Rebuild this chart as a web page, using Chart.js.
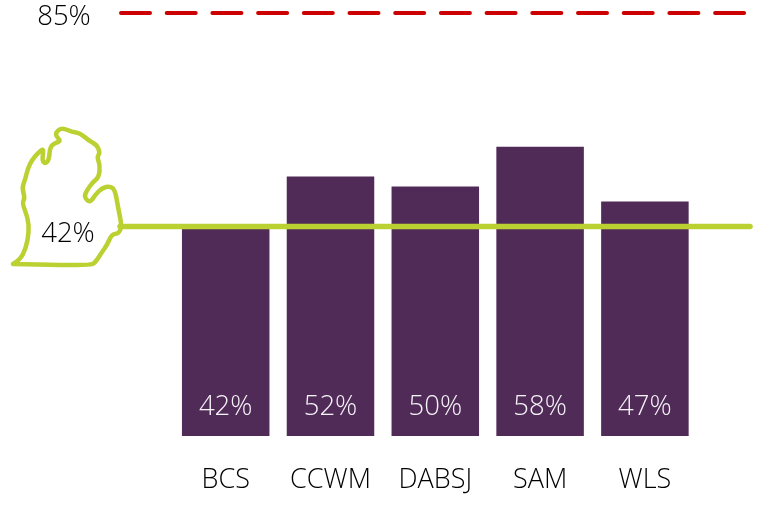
<!DOCTYPE html>
<html>
<head>
<meta charset="utf-8">
<title>Chart</title>
<script src="https://cdn.jsdelivr.net/npm/chart.js@4"></script>
<style>
    html, body { margin: 0; padding: 0; background: #ffffff; }
    canvas { display: block; }
</style>
</head>
<body>
<canvas id="districtChart" width="759" height="513"></canvas>
<script>
    // Chart values
    const categories = ['BCS', 'CCWM', 'DABSJ', 'SAM', 'WLS'];
    const districtValues = [42, 52, 50, 58, 47];
    const stateValue = 42;
    const targetValue = 85;

    const FONT = '"Open Sans", "Noto Sans", sans-serif';
    const PURPLE = '#512b58';
    const GREEN = '#bbd132';
    const RED = '#cc0000';

    // Michigan outline, decoration only (canvas pixels)
    const michiganOutline = [
        [13, 264], [20, 260], [26, 248], [29, 232], [28, 218], [22, 203], [25, 198], [22, 188],
        [25, 180], [28, 168], [32, 160], [38, 153], [44, 148], [42, 160], [45, 164], [49, 160],
        [50, 147], [55, 143], [61, 141], [55, 135], [58, 130], [63, 128], [72, 132], [80, 133],
        [88, 140], [97, 145], [100, 153], [97, 157], [100, 165], [99, 177], [93, 182], [87, 190],
        [84, 197], [90, 203], [95, 195], [102, 188], [110, 186], [115, 190], [118, 207], [122, 227],
        [118, 234], [112, 234], [107, 245], [102, 252], [95, 263], [90, 265], [63, 265], [13, 264]
    ];

    // Smooth the outline by curving through the midpoints of its segments
    const drawOutline = (ctx, points) => {
        ctx.beginPath();
        ctx.moveTo(points[0][0], points[0][1]);
        for (let i = 1; i < points.length - 1; i++) {
            const midX = (points[i][0] + points[i + 1][0]) / 2;
            const midY = (points[i][1] + points[i + 1][1]) / 2;
            ctx.quadraticCurveTo(points[i][0], points[i][1], midX, midY);
        }
        ctx.lineTo(points[points.length - 1][0], points[points.length - 1][1]);
        ctx.stroke();
    };

    // Draws the two reference lines, the outline and the text that is not an axis label
    const overlayPlugin = {
        id: 'overlay',
        afterDatasetsDraw(chart) {
            const { ctx, scales } = chart;
            const targetY = scales.y.getPixelForValue(targetValue);
            const stateY = scales.y.getPixelForValue(stateValue);

            ctx.save();
            ctx.lineCap = 'round';

            ctx.strokeStyle = RED;
            ctx.lineWidth = 4;
            ctx.setLineDash([29, 16.7]);
            ctx.beginPath();
            ctx.moveTo(121, targetY + 1);
            ctx.lineTo(746, targetY + 1);
            ctx.stroke();
            ctx.setLineDash([]);

            ctx.strokeStyle = GREEN;
            ctx.lineWidth = 5.5;
            ctx.beginPath();
            ctx.moveTo(120, stateY);
            ctx.lineTo(750, stateY);
            ctx.stroke();

            ctx.lineWidth = 4.5;
            ctx.lineJoin = 'round';
            drawOutline(ctx, michiganOutline);

            ctx.font = `300 27.5px ${FONT}`;
            ctx.textAlign = 'center';
            ctx.textBaseline = 'middle';
            ctx.fillStyle = '#000000';
            ctx.fillText(`${targetValue}%`, 64, 17);
            ctx.fillText(`${stateValue}%`, 68, 234);

            // Value labels near the foot of each bar
            ctx.fillStyle = '#f6f3f7';
            chart.getDatasetMeta(0).data.forEach((bar, i) => {
                ctx.fillText(`${districtValues[i]}%`, bar.x, scales.y.bottom - 29);
            });
            ctx.restore();
        }
    };

    new Chart(document.getElementById('districtChart').getContext('2d'), {
        type: 'bar',
        data: {
            labels: categories,
            datasets: [{
                data: districtValues,
                backgroundColor: PURPLE,
                borderWidth: 0,
                barPercentage: 0.835,
                categoryPercentage: 1
            }]
        },
        options: {
            responsive: false,
            animation: false,
            layout: { padding: { left: 173.3, right: 61.7, top: 0, bottom: 0 } },
            plugins: { legend: { display: false }, tooltip: { enabled: false } },
            scales: {
                x: {
                    grid: { display: false },
                    border: { display: false },
                    afterFit: (scale) => { scale.height = 77; },
                    ticks: {
                        color: '#000000',
                        font: { family: FONT, size: 27, weight: '300' },
                        padding: 20,
                        autoSkip: false,
                        maxRotation: 0
                    }
                },
                y: { display: false, min: 0, max: 87.4 }
            }
        },
        plugins: [overlayPlugin]
    });
</script>
</body>
</html>
